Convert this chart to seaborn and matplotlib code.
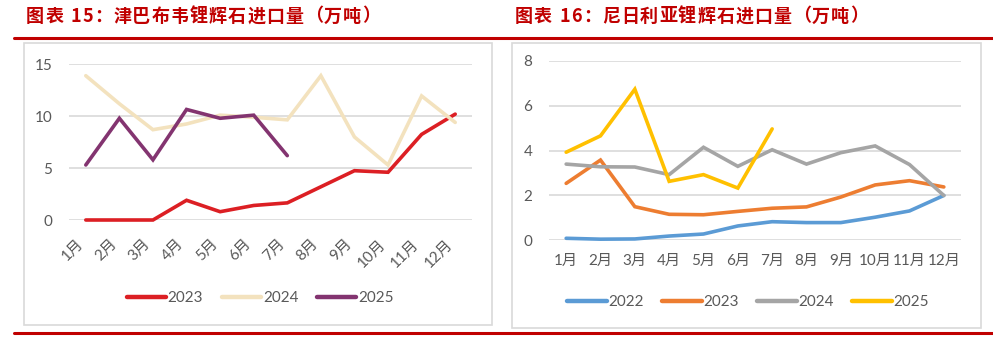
import numpy as np
import pandas as pd
import seaborn as sns
import matplotlib
matplotlib.use("Agg")
import matplotlib.pyplot as plt
from matplotlib.patches import Rectangle
from matplotlib.lines import Line2D

# ---------------- data ----------------
months = ["1月", "2月", "3月", "4月", "5月", "6月", "7月", "8月", "9月", "10月", "11月", "12月"]

zim_years = ["2023", "2024", "2025"]
zim_2023 = [0, 0, 0, 1.9, 0.8, 1.4, 1.65, 3.2, 4.75, 4.6, 8.25, 10.2]
zim_2024 = [13.9, 11.2, 8.7, 9.25, 10.1, 9.9, 9.65, 13.9, 8.0, 5.3, 11.95, 9.4]
zim_2025 = [5.3, 9.8, 5.8, 10.65, 9.8, 10.1, 6.2]
zim_title = "图表 15：津巴布韦锂辉石进口量（万吨）"
zim_yticks = [0, 5, 10, 15]

nga_years = ["2022", "2023", "2024", "2025"]
nga_2022 = [0.09, 0.05, 0.06, 0.19, 0.28, 0.64, 0.83, 0.79, 0.79, 1.03, 1.31, 2.0]
nga_2023 = [2.54, 3.58, 1.5, 1.16, 1.14, 1.29, 1.43, 1.49, 1.93, 2.47, 2.66, 2.38]
nga_2024 = [3.4, 3.28, 3.27, 2.93, 4.15, 3.3, 4.04, 3.4, 3.91, 4.21, 3.38, 2.0]
nga_2025 = [3.93, 4.66, 6.74, 2.63, 2.93, 2.33, 4.97]
nga_title = "图表 16：尼日利亚锂辉石进口量（万吨）"
nga_yticks = [0, 2, 4, 6, 8]

# ---------------- style ----------------
sns.set_theme(style="white")
plt.rcParams["font.family"] = ["Lato", "Noto Sans CJK SC", "DejaVu Sans"]

W, H = 993, 342
fig = plt.figure(figsize=(W / 100, H / 100), dpi=100)

def fx(px):
    return px / W

def fy(py):
    return 1 - py / H

TXT = "#595959"
GRID = "#D9D9D9"
RED = "#C00000"
LW = 2.6

def long_df(series_dict):
    rows = []
    for name, vals in series_dict.items():
        for i, v in enumerate(vals):
            rows.append({"month": i, "value": v, "year": name})
    return pd.DataFrame(rows)

def panel(ax_box, series, years, palette, yticks, ylim, rotate, legend_y, legend_cx):
    x0, y_top, x1, y_bot = ax_box
    ax = fig.add_axes([fx(x0), fy(y_bot), fx(x1 - x0), (y_bot - y_top) / H])
    df = long_df(series)
    sns.lineplot(data=df, x="month", y="value", hue="year", hue_order=years,
                 palette=palette, linewidth=LW, ax=ax, legend=False, sort=False)
    for ln in ax.lines:
        ln.set_clip_on(False)
        ln.set_solid_capstyle("round")
        ln.set_solid_joinstyle("miter")
    ax.set_xlim(-0.5, 11.5)
    ax.set_ylim(*ylim)
    ax.set_yticks(yticks)
    ax.set_xticks(range(12))
    ax.yaxis.grid(True, color=GRID, linewidth=1.2)
    ax.xaxis.grid(False)
    ax.set_axisbelow(True)
    for s in ax.spines.values():
        s.set_visible(False)
    ax.set_xlabel("")
    ax.set_ylabel("")
    ax.tick_params(axis="both", length=0, colors=TXT, labelsize=11)
    ax.tick_params(axis="y", pad=12)
    ax.set_yticklabels([str(t) for t in yticks])
    if rotate:
        ax.set_xticklabels(months, rotation=45, ha="right", va="top")
        ax.tick_params(axis="x", pad=12)
    else:
        ax.set_xticklabels(months)
        ax.tick_params(axis="x", pad=10)
    ax.set_facecolor("none")
    handles = [Line2D([0], [0], color=palette[y], lw=3.2, solid_capstyle="round") for y in years]
    ax.legend(handles, years, loc="center", ncol=len(years),
              bbox_to_anchor=(fx(legend_cx), fy(legend_y)), bbox_transform=fig.transFigure,
              frameon=False, fontsize=11, handlelength=2.6, handletextpad=0.1,
              columnspacing=1.2, labelcolor=TXT)
    return ax

# panel boxes
fig.patches.append(Rectangle((fx(24), fy(325)), fx(492 - 24), (325 - 43) / H,
                             transform=fig.transFigure, fill=False, edgecolor="#D9D9D9", lw=1.2))
fig.patches.append(Rectangle((fx(512), fy(328)), fx(981 - 512), (328 - 43) / H,
                             transform=fig.transFigure, fill=False, edgecolor="#D9D9D9", lw=1.2))

panel((69, 64.3, 472, 220),
      {"2023": zim_2023, "2024": zim_2024, "2025": zim_2025}, zim_years,
      {"2023": "#DC1F24", "2024": "#F3E2BE", "2025": "#833470"},
      zim_yticks, (0, 15), True, 298, 260)

panel((549, 61, 961, 240.3),
      {"2022": nga_2022, "2023": nga_2023, "2024": nga_2024, "2025": nga_2025}, nga_years,
      {"2022": "#5B9BD5", "2023": "#ED7D31", "2024": "#A5A5A5", "2025": "#FFC000"},
      nga_yticks, (0, 8), False, 302, 748)

# titles with letter spacing
title_font = ["Noto Sans CJK SC", "DejaVu Sans"]
renderer = fig.canvas.get_renderer()

def spaced_title(text, x_start, x_end, y):
    objs = []
    widths = []
    for ch in text:
        t = fig.text(0, fy(y), ch, color=RED, fontsize=13, fontweight="bold",
                     family=title_font, ha="left", va="center")
        bb = t.get_window_extent(renderer)
        w = bb.width if ch.strip() else 5.0
        objs.append(t)
        widths.append(w)
    total = sum(widths)
    gap = (x_end - x_start - total) / max(len(text) - 1, 1)
    x = x_start
    for t, w in zip(objs, widths):
        t.set_x(fx(x))
        x += w + gap

spaced_title(zim_title, 26, 380, 16)
spaced_title(nga_title, 515, 868, 16)

# red rules
fig.add_artist(Line2D([fx(14), 1], [fy(38), fy(38)], color=RED, lw=2.2, transform=fig.transFigure))
fig.add_artist(Line2D([fx(14), 1], [fy(333), fy(333)], color=RED, lw=2.2, transform=fig.transFigure))

fig.savefig("out.png", dpi=100)
